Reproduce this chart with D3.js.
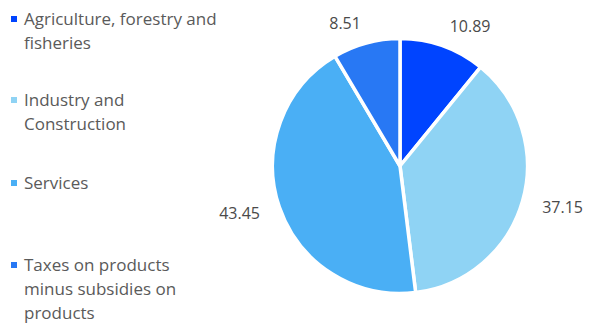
<!DOCTYPE html>
<html><head><meta charset="utf-8">
<script src="https://cdn.jsdelivr.net/npm/d3@7"></script>
<style>
body { margin: 0; background: #fff; font-family: "Open Sans", sans-serif; }
.label { font-size: 16px; fill: #4a4a4a; }
.legend text { font-size: 17px; fill: #5a5a5a; }
</style></head><body>
<svg id="chart" width="593" height="325"></svg>
<script>
const categories = ["Agriculture, forestry and fisheries", "Industry and Construction", "Services", "Taxes on products minus subsidies on products"];
const legendLines = [["Agriculture, forestry and", "fisheries"], ["Industry and", "Construction"], ["Services"], ["Taxes on products", "minus subsidies on", "products"]];
const values = [10.89, 37.15, 43.45, 8.51];
const colors = ["#0044ff", "#8fd3f4", "#4aaff5", "#2878f4"];

const svg = d3.select("#chart");
const cx = 400, cy = 166, r = 127.5;

const pie = d3.pie().sort(null).value(d => d);
const arc = d3.arc().innerRadius(0).outerRadius(r);
const labelR = 148;

const g = svg.append("g").attr("transform", `translate(${cx},${cy})`);
const arcs = pie(values);

g.selectAll("path")
    .data(arcs)
    .enter().append("path")
    .attr("d", arc)
    .attr("fill", (d, i) => colors[i])
    .attr("stroke", "#fff")
    .attr("stroke-width", 3.5)
    .attr("stroke-linejoin", "round");

// labels sit just outside the slice, left-aligned on the right half, right-aligned on the left
const mid = d => (d.startAngle + d.endAngle) / 2;
g.selectAll("text")
    .data(arcs)
    .enter().append("text")
    .attr("class", "label")
    .attr("text-anchor", d => Math.sin(mid(d)) >= 0 ? "start" : "end")
    .attr("dy", "0.35em")
    .attr("x", d => Math.sin(mid(d)) * labelR)
    .attr("y", d => -Math.cos(mid(d)) * labelR)
    .text(d => d.data.toFixed(2));

// legend
const itemY = [19, 100, 183, 265];
const legend = svg.append("g").attr("class", "legend");
legendLines.forEach((lines, i) => {
    const item = legend.append("g").attr("transform", `translate(0,${itemY[i]})`);
    item.append("rect")
        .attr("x", 11).attr("y", -3)
        .attr("width", 6).attr("height", 6)
        .attr("fill", colors[i]);
    lines.forEach((line, j) => {
        item.append("text")
            .attr("x", 24)
            .attr("y", j * 24)
            .attr("dy", "0.35em")
            .text(line);
    });
});
</script></body></html>
